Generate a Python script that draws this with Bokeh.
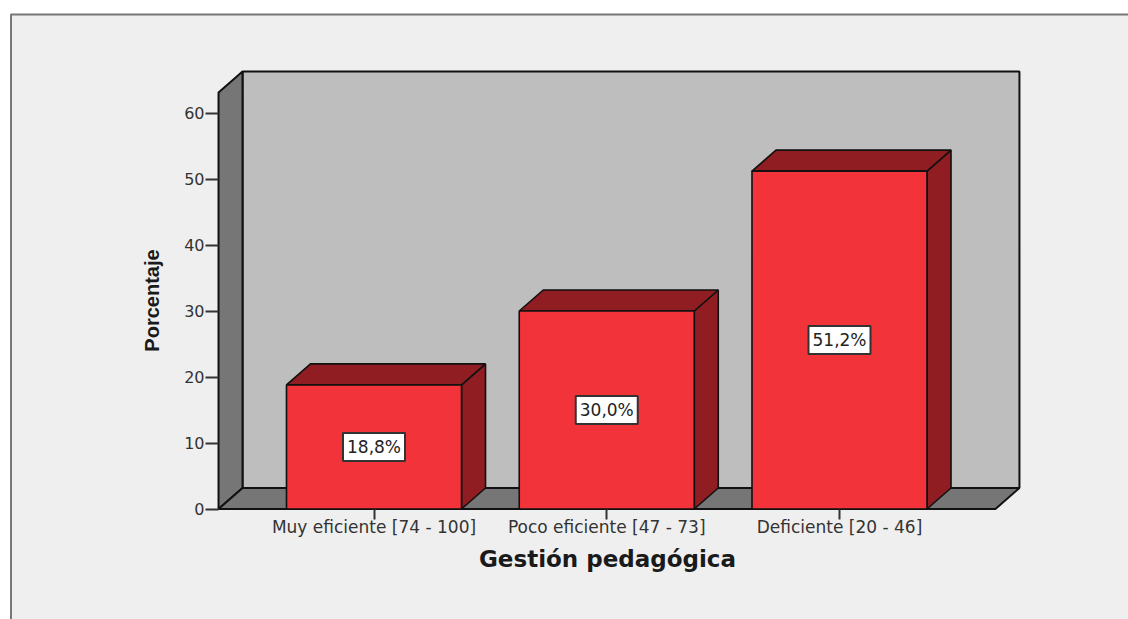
from bokeh.embed import file_html
from bokeh.resources import INLINE
from bokeh.plotting import figure
from bokeh.models import BoxAnnotation, FixedTicker, Label, LinearAxis, Range1d

categories = ["Muy eficiente [74 - 100]", "Poco eficiente [47 - 73]", "Deficiente [20 - 46]"]
percentages = [18.8, 30.0, 51.2]
value_labels = ["18,8%", "30,0%", "51,2%"]
y_ticks = [0, 10, 20, 30, 40, 50, 60]
x_title = "Gestión pedagógica"
y_title = "Porcentaje"

WIDTH, HEIGHT = 1128, 619
# data-to-pixel scale of the drawing
PX_PER_CAT, X0_PX = 232.75, 373.5
PX_PER_PCT, Y0_PX = 6.6, 508.5

# oblique offset of the 3D box, in data units
DX = 24 / PX_PER_CAT
DY = 21 / PX_PER_PCT
HALF = 0.376
X_MIN, X_MAX = -0.668, 2.67
Y_TOP = 63.1

FRONT, DARK, WALL, SIDE, PANEL = "#f2333a", "#8f1d22", "#bebebe", "#767676", "#efefef"
INK = "#111111"

p = figure(width=WIDTH, height=HEIGHT, output_backend="svg", toolbar_location=None,
           min_border=0, outline_line_color=None,
           x_range=Range1d(-X0_PX / PX_PER_CAT, (WIDTH - X0_PX) / PX_PER_CAT),
           y_range=Range1d((Y0_PX - HEIGHT) / PX_PER_PCT, Y0_PX / PX_PER_PCT),
           x_axis_type=None, y_axis_type=None)
p.grid.visible = False
p.background_fill_color = "#ffffff"
p.border_fill_color = "#ffffff"

# page panel: runs off the right and bottom edges (screen y counts from the bottom)
p.add_layout(BoxAnnotation(left=10.5, right=WIDTH + 20, top=HEIGHT - 14, bottom=-20,
                           left_units="screen", right_units="screen",
                           top_units="screen", bottom_units="screen",
                           fill_color=PANEL, fill_alpha=1,
                           line_color="#777777", line_alpha=1, line_width=2, level="underlay"))

# back wall, left wall, floor
p.patch([X_MIN + DX, X_MAX + DX, X_MAX + DX, X_MIN + DX], [DY, DY, Y_TOP + DY, Y_TOP + DY],
        fill_color=WALL, line_color=INK, line_width=2)
p.patch([X_MIN, X_MIN + DX, X_MIN + DX, X_MIN], [0, DY, Y_TOP + DY, Y_TOP],
        fill_color=SIDE, line_color=INK, line_width=2)
p.patch([X_MIN, X_MAX, X_MAX + DX, X_MIN + DX], [0, 0, DY, DY],
        fill_color=SIDE, line_color=INK, line_width=2)

# bars: side face, top face, front face
for i, v in enumerate(percentages):
    l, r = i - HALF, i + HALF
    p.patch([r, r + DX, r + DX, r], [0, DY, v + DY, v], fill_color=DARK, line_color=INK, line_width=1.6)
    p.patch([l, r, r + DX, l + DX], [v, v, v + DY, v + DY], fill_color=DARK, line_color=INK, line_width=1.6)
    p.quad(left=l, right=r, bottom=0, top=v, fill_color=FRONT, line_color=INK, line_width=1.6)

# axes sit on the box's front edges
y_axis = LinearAxis(ticker=FixedTicker(ticks=y_ticks), fixed_location=X_MIN,
                    axis_line_color=None, major_tick_line_color="#333333", major_tick_line_width=2,
                    major_tick_out=13, major_tick_in=0, minor_tick_line_color=None,
                    major_label_text_font="DejaVu Sans", major_label_text_font_size="16px",
                    major_label_text_color="#333333", major_label_standoff=1)
p.add_layout(y_axis, "left")

x_axis = LinearAxis(ticker=FixedTicker(ticks=[0, 1, 2]), fixed_location=0,
                    major_label_overrides={i: c for i, c in enumerate(categories)},
                    axis_line_color=None, major_tick_line_color="#333333", major_tick_line_width=2,
                    major_tick_out=10, major_tick_in=0, minor_tick_line_color=None,
                    major_label_text_font="DejaVu Sans", major_label_text_font_size="17px",
                    major_label_text_color="#333333", major_label_standoff=-2)
p.add_layout(x_axis, "below")

# value boxes at mid-bar height
for i, (v, t) in enumerate(zip(percentages, value_labels)):
    p.add_layout(Label(x=i, y=v / 2, text=t, text_align="center", text_baseline="middle",
                       text_font="DejaVu Sans", text_font_size="17px", text_color="#222222",
                       background_fill_color="#ffffff", border_line_color="#333333",
                       border_line_width=2, padding=4))

# axis titles
p.add_layout(Label(x=607, y=HEIGHT - 558, x_units="screen", y_units="screen", text=x_title,
                   text_align="center", text_baseline="middle", text_font="DejaVu Sans",
                   text_font_style="bold", text_font_size="23px", text_color="#1a1a1a"))
p.add_layout(Label(x=151, y=HEIGHT - 300, x_units="screen", y_units="screen", text=y_title, angle=90,
                   angle_units="deg", text_align="center", text_baseline="middle",
                   text_font="Liberation Sans", text_font_style="bold",
                   text_font_size="20px", text_color="#1a1a1a"))

open("out.html", "w").write(file_html(p, INLINE))
